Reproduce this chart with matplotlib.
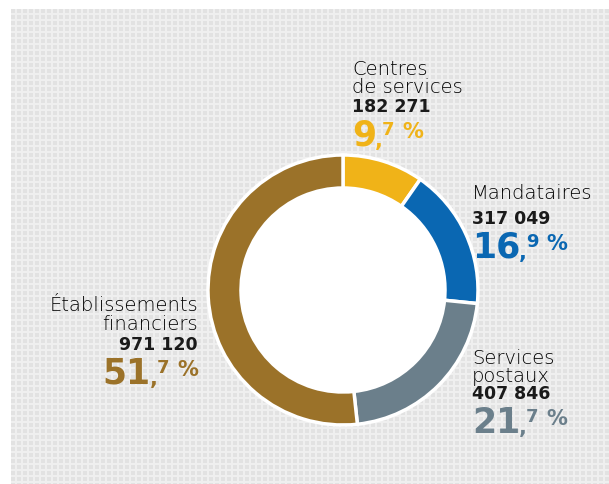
import matplotlib.pyplot as plt
import numpy as np

# donut chart - repartition par reseau
labels = [["Centres", "de services"], ["Mandataires"], ["Services", "postaux"],
          ["Établissements", "financiers"]]
counts = ["182 271", "317 049", "407 846", "971 120"]
pct_int = ["9", "16", "21", "51"]
pct_dec = ["7", "9", "7", "7"]
shares = [9.7, 16.9, 21.7, 51.7]
colors = ["#F0B318", "#0A67B2", "#6B7F8B", "#9B7229"]

W, H = 609, 484
fig = plt.figure(figsize=(W / 100, H / 100), dpi=100)
fig.patch.set_facecolor("white")

# dotted grey panel
bg = fig.add_axes([0, 0, 1, 1])
bg.set_xlim(0, W)
bg.set_ylim(H, 0)
bg.axis("off")
yy, xx = np.mgrid[0:H - 9, 0:W - 11]
tile = np.where(((xx % 6) < 4) & ((yy % 6) < 4), 0.885, 0.935)
bg.imshow(tile, cmap="gray", vmin=0, vmax=1, extent=(11, W, H, 9),
          interpolation="nearest", aspect="auto")

ax = fig.add_axes([0, 0, 1, 1])
ax.set_xlim(0, W)
ax.set_ylim(0, H)
ax.set_aspect("equal")
ax.axis("off")

cx, cy = 343, H - 290
ax.pie(shares, colors=colors, startangle=90, counterclock=False,
       center=(cx, cy), radius=135,
       wedgeprops=dict(width=33, edgecolor="white", linewidth=2.5))
ax.add_patch(plt.Circle((cx, cy), 102, color="white", zorder=5))
ax.set_xlim(0, W)
ax.set_ylim(0, H)

# text blocks: (x, baseline of first label line, ha, baseline of percentage)
pos = [(352, 75, "left", 146), (472, 199, "left", 258),
       (472, 364, "left", 433), (198, 311, "right", 384)]

fig.canvas.draw()
r = fig.canvas.get_renderer()

def place(x, y, s, size, weight, color, ha="left", va="baseline"):
    return fig.text(x / W, 1 - y / H, s, fontsize=size, fontweight=weight,
                    color=color, ha=ha, va=va, family="DejaVu Sans")

for i in range(4):
    x, yl, ha, b = pos[i]
    c = colors[i]
    for k, line in enumerate(labels[i]):
        place(x, yl + 18.5 * k, line, 14, "light", "#000000", ha)
    place(x, b - 34, counts[i], 12.5, "bold", "#1a1a1a", ha)
    # percentage: big integer, small ",d" and "%"
    big = place(0, 0, pct_int[i], 25, "bold", c)
    comma = place(0, 0, ",", 15, "bold", c)
    dec = place(0, 0, pct_dec[i], 13, "bold", c)
    pc = place(0, 0, "%", 15, "bold", c)
    wb = big.get_window_extent(r).width
    wc = comma.get_window_extent(r).width
    wd = dec.get_window_extent(r).width
    wp = pc.get_window_extent(r).width
    total = wb + wc - 2 + wd + 8 + wp
    x0 = x if ha == "left" else x - total
    big.set_position((x0 / W, 1 - b / H))
    comma.set_position(((x0 + wb - 1) / W, 1 - (b + 1) / H))
    dec.set_position(((x0 + wb + wc - 2) / W, 1 - (b - 11) / H))
    pc.set_position(((x0 + wb + wc - 2 + wd + 8) / W, 1 - (b - 8) / H))

fig.savefig("out.png", dpi=100, facecolor="white")
